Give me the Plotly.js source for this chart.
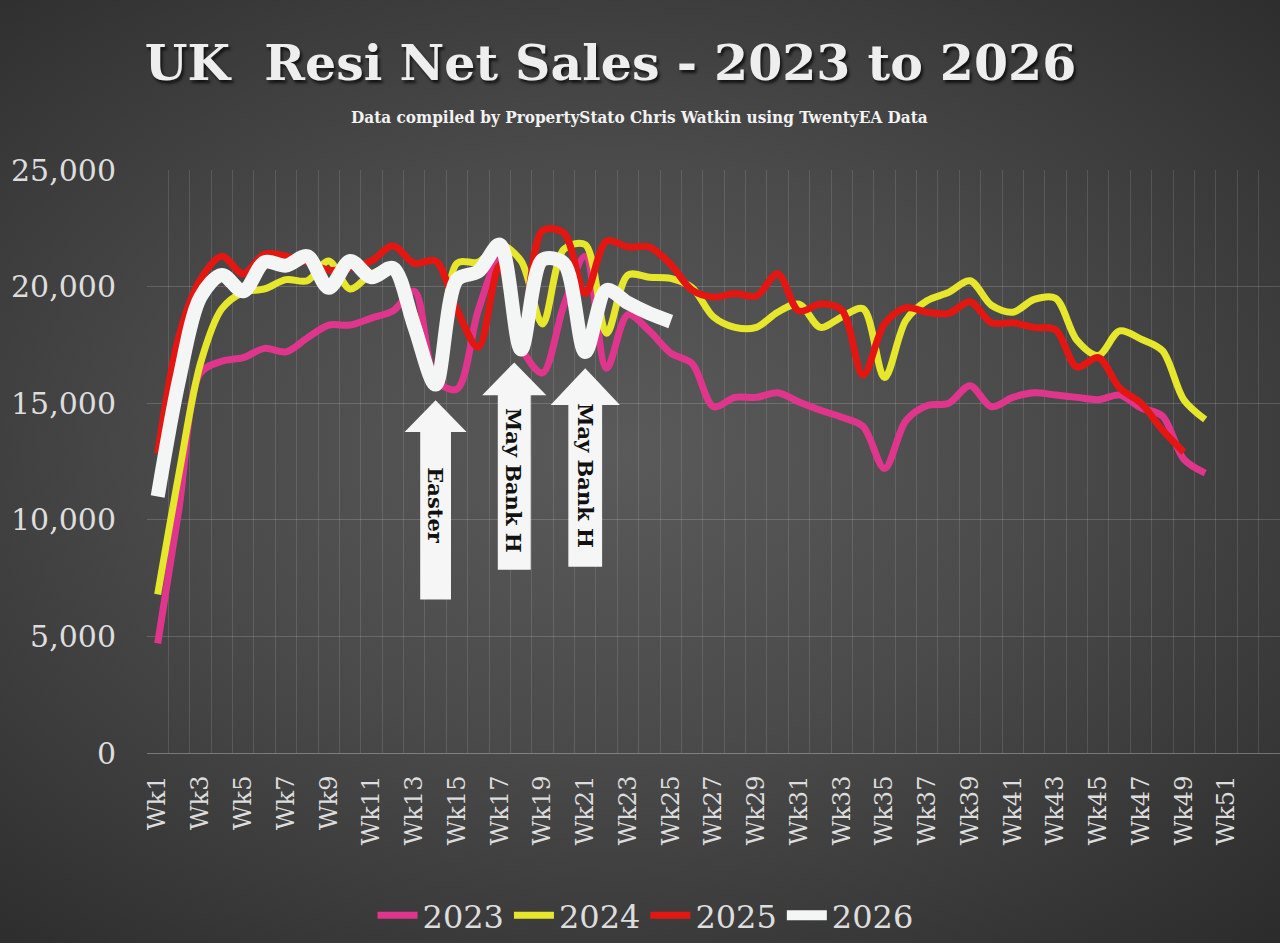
<!DOCTYPE html>
<html>
<head>
<meta charset="utf-8">
<script src="https://cdn.plot.ly/plotly-3.0.1.min.js"></script>
<style>
  html, body { margin: 0; padding: 0; }
  #chart {
    width: 1280px; height: 943px;
    background: radial-gradient(ellipse 75% 70% at 48% 48%, #5a5a5a 0%, #4a4a4a 45%, #3a3a3a 75%, #2c2c2c 100%);
  }
</style>
</head>
<body>
<div id="chart"></div>
<script>
var weeks = ["Wk1","Wk2","Wk3","Wk4","Wk5","Wk6","Wk7","Wk8","Wk9","Wk10",
  "Wk11","Wk12","Wk13","Wk14","Wk15","Wk16","Wk17","Wk18","Wk19","Wk20",
  "Wk21","Wk22","Wk23","Wk24","Wk25","Wk26","Wk27","Wk28","Wk29","Wk30",
  "Wk31","Wk32","Wk33","Wk34","Wk35","Wk36","Wk37","Wk38","Wk39","Wk40",
  "Wk41","Wk42","Wk43","Wk44","Wk45","Wk46","Wk47","Wk48","Wk49","Wk50",
  "Wk51","Wk52"];

var sales2023 = [4700, 10500, 16300, 16800, 16950, 17350, 17200, 17800, 18350, 18350,
  18650, 18950, 19800, 16000, 15600, 19000, 21200, 17400, 16300, 19200,
  21300, 16500, 18800, 18100, 17150, 16700, 14850, 15250, 15250, 15450,
  15050, 14700, 14400, 14000, 12200, 14250, 14900, 15000, 15750, 14850,
  15250, 15450, 15350, 15250, 15150, 15350, 14800, 14450, 12600, 12000];

var sales2024 = [6800, 12000, 16700, 19050, 19750, 19900, 20300, 20250, 21100, 19900,
  20550, 20800, 18800, 16000, 21000, 21050, 21800, 21100, 18400, 21600,
  21800, 18000, 20500, 20400, 20350, 19950, 18700, 18250, 18250, 18900,
  19250, 18250, 18700, 19050, 16100, 18550, 19400, 19750, 20250, 19200,
  18900, 19450, 19500, 17700, 17050, 18100, 17750, 17250, 15150, 14300];

var sales2025 = [12850, 17900, 20300, 21300, 20550, 21400, 21300, 21050, 20700, 20800,
  21100, 21750, 21000, 21100, 19000, 17400, 20900, 18200, 22400, 22300,
  19700, 21950, 21700, 21700, 20950, 19850, 19550, 19700, 19600, 20550,
  18950, 19250, 19000, 16200, 18400, 19100, 18900, 18850, 19350, 18450,
  18450, 18250, 18150, 16550, 16950, 15650, 15000, 13850, 12900];

var sales2026 = [11000, 16000, 19550, 20500, 19800, 21050, 20900, 21300, 19950, 21100,
  20400, 20800, 18300, 15800, 20300, 20650, 21800, 17300, 21150, 21000,
  17200, 19850, 19300, 18850, 18500];

var seriesNames = ["2023", "2024", "2025", "2026"];
var eventLabels = ["Easter", "May Bank H", "May Bank H"];

// every other week label shown on the axis
var tickLabels = weeks.map(function(w, i){ return i % 2 === 0 ? w : ""; });

function line(name, y, color, width){
  return {
    x: weeks.slice(0, y.length),
    y: y,
    name: name,
    type: 'scatter',
    mode: 'lines',
    line: { color: color, width: width, shape: 'spline', smoothing: 0.9 },
    hoverinfo: 'skip'
  };
}

var data = [
  line(seriesNames[0], sales2023, '#e0358c', 7),
  line(seriesNames[1], sales2024, '#e6e62c', 7),
  line(seriesNames[2], sales2025, '#e41612', 7),
  line(seriesNames[3], sales2026, '#f4f6f5', 14)
];

// up arrows: centre (category index), tip, head base, bottom, head half width, shaft half width
function arrowPath(cx, tip, base, bottom, hw, sw){
  return 'M ' + cx + ' ' + tip +
    ' L ' + (cx + hw) + ' ' + base +
    ' L ' + (cx + sw) + ' ' + base +
    ' L ' + (cx + sw) + ' ' + bottom +
    ' L ' + (cx - sw) + ' ' + bottom +
    ' L ' + (cx - sw) + ' ' + base +
    ' L ' + (cx - hw) + ' ' + base + ' Z';
}

var arrowStyle = { type: 'path', xref: 'x', yref: 'y', fillcolor: '#f5f6f5', line: { width: 0 } };
var shapes = [
  Object.assign({ path: arrowPath(13.0, 15130, 13760, 6580, 1.45, 0.72) }, arrowStyle),
  Object.assign({ path: arrowPath(16.68, 16750, 15340, 7860, 1.5, 0.77) }, arrowStyle),
  Object.assign({ path: arrowPath(20.0, 16500, 14920, 7990, 1.62, 0.79) }, arrowStyle)
];

var labelFont = { family: 'DejaVu Serif', size: 21, color: '#111', weight: 'bold' };
var annotations = [
  { x: 13.0, y: 10640, text: eventLabels[0], textangle: 90, showarrow: false, font: labelFont },
  { x: 16.68, y: 11700, text: eventLabels[1], textangle: 90, showarrow: false, font: labelFont },
  { x: 20.0, y: 11900, text: eventLabels[2], textangle: 90, showarrow: false, font: labelFont },
  { xref: 'paper', yref: 'paper', x: 0.435, y: 1.091, xanchor: 'center', yanchor: 'middle',
    text: 'Data compiled by PropertyStato Chris Watkin using TwentyEA Data', showarrow: false,
    font: { family: 'DejaVu Serif Condensed, DejaVu Serif', size: 17, color: '#f2f2f2', weight: 'bold' } }
];

var layout = {
  width: 1280,
  height: 943,
  paper_bgcolor: 'rgba(0,0,0,0)',
  plot_bgcolor: 'rgba(0,0,0,0)',
  margin: { l: 147, r: 0, t: 170, b: 189 },
  title: {
    text: 'UK\u00a0 Resi Net Sales - 2023 to 2026',
    xref: 'container', yref: 'container',
    x: 0.477, y: 0.933, xanchor: 'center', yanchor: 'middle',
    font: { family: 'DejaVu Serif', size: 49, color: '#eeeeee', weight: 'bold',
            shadow: '2px 3px 3px rgba(0,0,0,0.7)' }
  },
  xaxis: {
    type: 'category',
    categoryorder: 'array',
    categoryarray: weeks,
    range: [-0.5, 52.5],
    tickmode: 'array',
    tickvals: weeks,
    ticktext: tickLabels,
    tickson: 'boundaries',
    ticks: '',
    tickangle: -90,
    tickfont: { family: 'DejaVu Serif', size: 24, color: '#dddddd' },
    ticklabelstandoff: 12,
    showgrid: true,
    gridcolor: 'rgba(255,255,255,0.12)',
    showline: true,
    linecolor: 'rgba(255,255,255,0.3)',
    fixedrange: true
  },
  yaxis: {
    range: [0, 25000],
    dtick: 5000,
    tickformat: ',d',
    ticks: '',
    tickfont: { family: 'DejaVu Serif', size: 30, color: '#dddddd' },
    ticklabelstandoff: 30,
    showgrid: true,
    gridcolor: 'rgba(255,255,255,0.16)',
    zeroline: false,
    fixedrange: true
  },
  legend: {
    orientation: 'h',
    xref: 'paper', yref: 'paper',
    x: 0.44, y: -0.279, xanchor: 'center', yanchor: 'middle',
    font: { family: 'DejaVu Serif', size: 32, color: '#dddddd' },
    itemwidth: 40,
    tracegroupgap: 0,
    bgcolor: 'rgba(0,0,0,0)'
  },
  shapes: shapes,
  annotations: annotations,
  showlegend: true
};

Plotly.newPlot('chart', data, layout, { displayModeBar: false, staticPlot: true });
</script>
</body>
</html>
